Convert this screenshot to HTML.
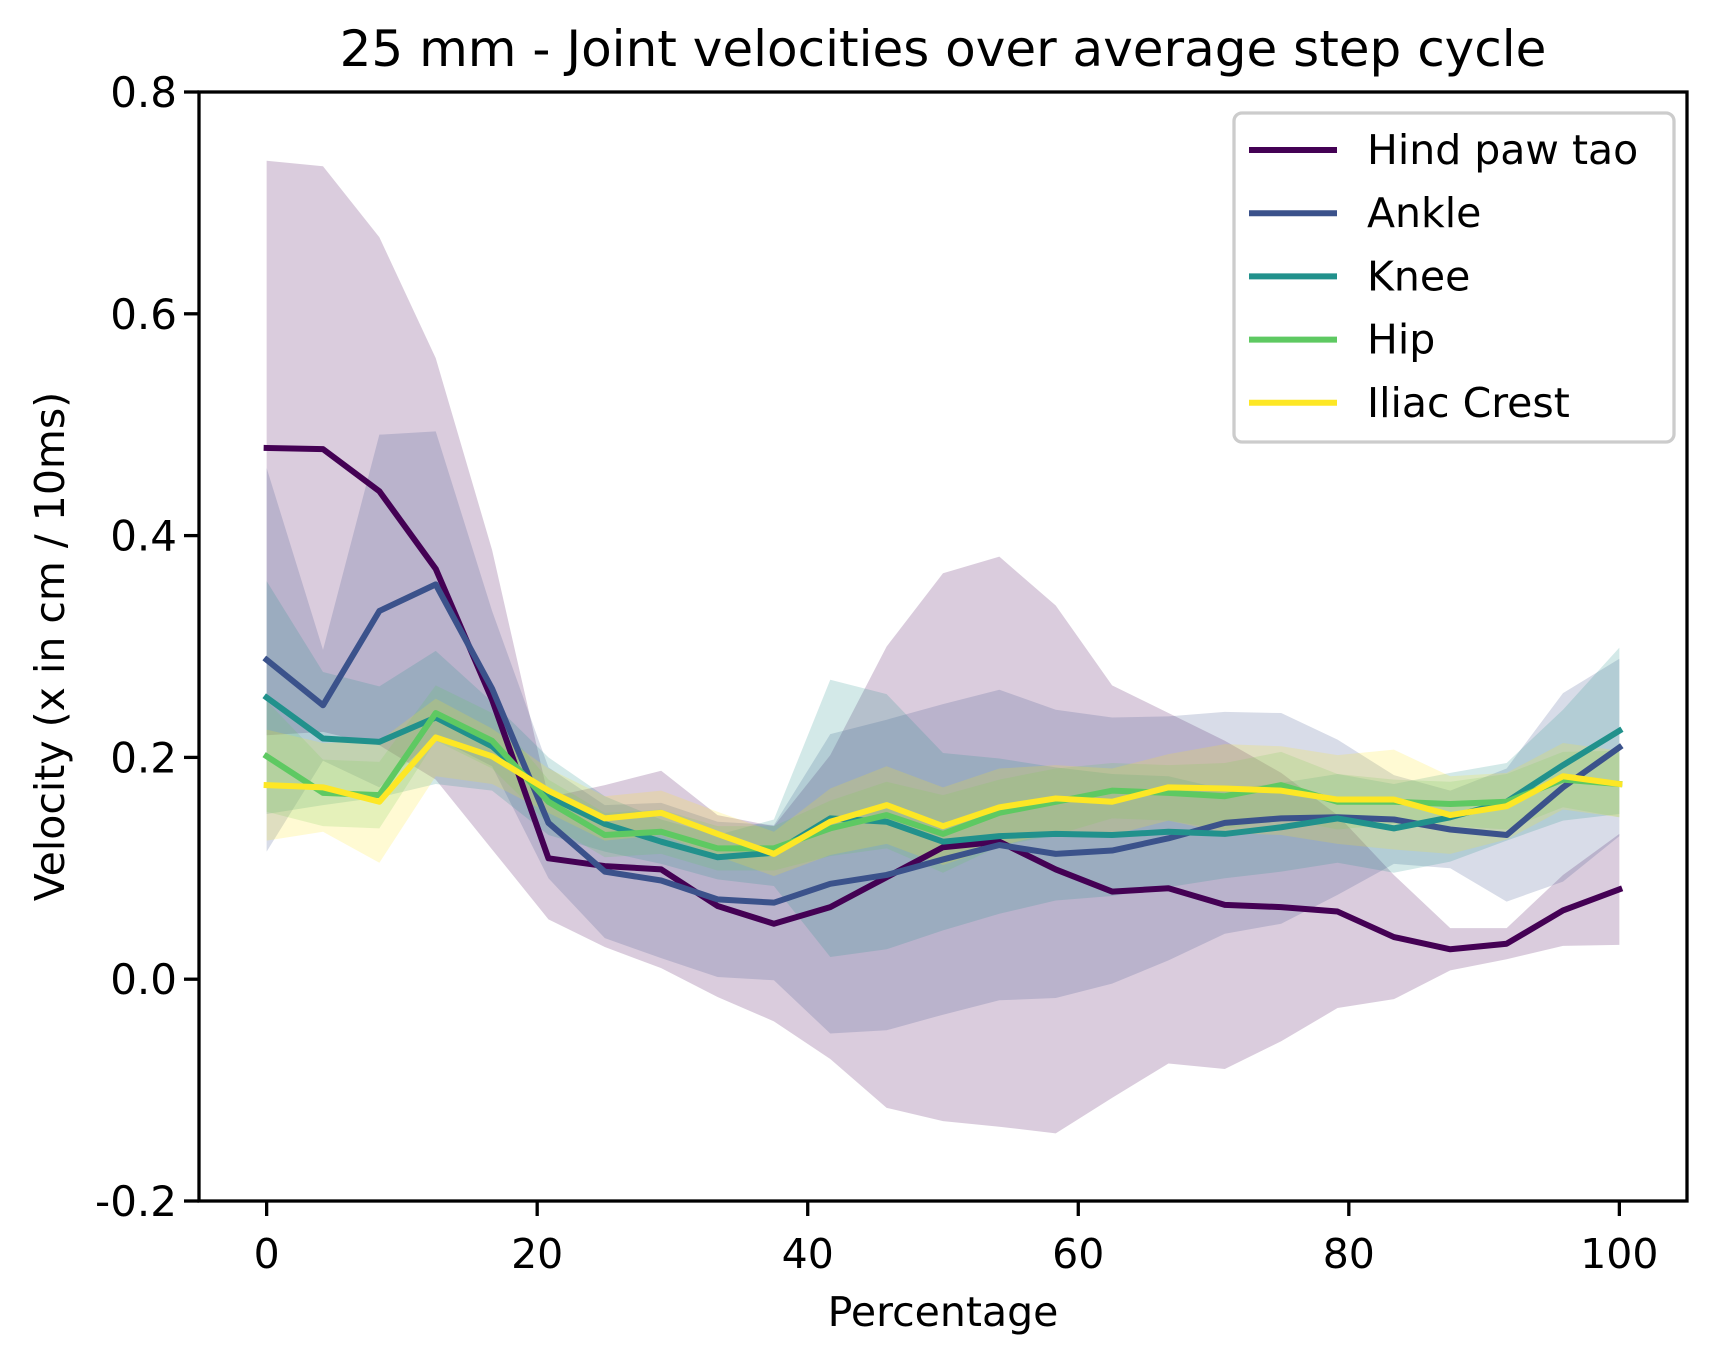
<!DOCTYPE html>
<html><head><meta charset="utf-8"><style>body{margin:0;background:#fff}svg{display:block}text{font-family:"DejaVu Sans","Liberation Sans",sans-serif;fill:#000}</style></head>
<body>
<svg id="chart" width="1716" height="1361" xmlns="http://www.w3.org/2000/svg"></svg>
<script>
const xTicks=[0,20,40,60,80,100];
const yTicks=[-0.2,0,0.2,0.4,0.6,0.8];
const yTickLabels=["-0.2","0.0","0.2","0.4","0.6","0.8"];
const seriesNames=["Hind paw tao","Ankle","Knee","Hip","Iliac Crest"];
const seriesColors=["#440154","#3b528b","#21918c","#5ec962","#fde725"];
const hindMean=[0.479,0.478,0.440,0.370,0.252,0.109,0.102,0.099,0.066,0.050,0.065,0.092,0.119,0.124,0.099,0.079,0.082,0.067,0.065,0.061,0.038,0.027,0.032,0.062,0.081];
const hindStd=[0.259,0.255,0.229,0.190,0.135,0.055,0.073,0.089,0.082,0.088,0.137,0.208,0.247,0.257,0.238,0.186,0.158,0.148,0.121,0.087,0.056,0.019,0.014,0.032,0.05];
const ankleMean=[0.288,0.247,0.332,0.356,0.262,0.141,0.097,0.089,0.072,0.069,0.086,0.094,0.108,0.121,0.113,0.116,0.127,0.141,0.145,0.146,0.144,0.135,0.130,0.173,0.209];
const ankleStd=[0.173,0.05,0.159,0.138,0.07,0.05,0.06,0.07,0.07,0.07,0.135,0.14,0.14,0.14,0.13,0.12,0.11,0.10,0.095,0.07,0.04,0.035,0.06,0.085,0.08];
const kneeMean=[0.254,0.217,0.214,0.236,0.210,0.165,0.140,0.124,0.110,0.114,0.145,0.142,0.124,0.129,0.131,0.130,0.133,0.131,0.137,0.145,0.136,0.146,0.160,0.193,0.224];
const kneeStd=[0.105,0.06,0.05,0.06,0.04,0.035,0.025,0.02,0.02,0.03,0.125,0.115,0.08,0.07,0.06,0.055,0.05,0.04,0.04,0.04,0.04,0.04,0.035,0.05,0.075];
const hipMean=[0.201,0.168,0.166,0.240,0.215,0.160,0.130,0.133,0.118,0.118,0.136,0.148,0.131,0.150,0.160,0.170,0.168,0.165,0.175,0.160,0.160,0.158,0.160,0.180,0.176];
const hipStd=[0.05,0.03,0.03,0.025,0.025,0.02,0.02,0.02,0.02,0.02,0.025,0.03,0.035,0.03,0.03,0.025,0.025,0.03,0.03,0.025,0.02,0.02,0.025,0.025,0.03];
const iliacMean=[0.175,0.173,0.160,0.218,0.201,0.170,0.145,0.150,0.131,0.113,0.142,0.157,0.138,0.155,0.163,0.160,0.173,0.172,0.170,0.162,0.162,0.148,0.156,0.183,0.176];
const iliacStd=[0.05,0.04,0.055,0.035,0.025,0.02,0.02,0.02,0.02,0.02,0.03,0.035,0.035,0.035,0.03,0.03,0.03,0.04,0.04,0.04,0.045,0.035,0.03,0.03,0.03];

const means=[hindMean,ankleMean,kneeMean,hipMean,iliacMean];
const stds=[hindStd,ankleStd,kneeStd,hipStd,iliacStd];
const L=199,R=1687,T=92,B=1201;
const xS=v=>L+(v+5)/110*(R-L);
const yS=v=>B-(v+0.2)/1.0*(B-T);
const svg=document.getElementById('chart');
const NS="http://www.w3.org/2000/svg";
function mk(tag,attrs,parent){const e=document.createElementNS(NS,tag);for(const k in attrs)e.setAttribute(k,attrs[k]);(parent||svg).appendChild(e);return e;}
const xs=i=>i*100/24;
means.forEach((m,s)=>{
  let pts=m.map((v,i)=>xS(xs(i))+','+yS(v+stds[s][i]));
  for(let i=m.length-1;i>=0;i--)pts.push(xS(xs(i))+','+yS(m[i]-stds[s][i]));
  const p=mk('polygon',{points:pts.join(' '),fill:seriesColors[s],'fill-opacity':0.2});
  
  
});
means.forEach((m,s)=>{
  const p=mk('polyline',{points:m.map((v,i)=>xS(xs(i))+','+yS(v)).join(' '),fill:'none',stroke:seriesColors[s],'stroke-width':6,'stroke-linejoin':'round','stroke-linecap':'square'});
  
  
});
const fr=mk('rect',{x:L,y:T,width:R-L,height:B-T,fill:'none',stroke:'#000','stroke-width':3.3});


xTicks.forEach(t=>{
  mk('line',{x1:xS(t),x2:xS(t),y1:B,y2:B+15,stroke:'#000','stroke-width':3.3});
  const tx=mk('text',{x:xS(t),y:1268,'font-size':41,'text-anchor':'middle'});tx.textContent=t;
  
  
});
yTicks.forEach((t,i)=>{
  mk('line',{x1:L-15,x2:L,y1:yS(t),y2:yS(t),stroke:'#000','stroke-width':3.3});
  const tx=mk('text',{x:L-22,y:yS(t)+15,'font-size':42,'text-anchor':'end'});tx.textContent=yTickLabels[i];
  
  
});
const xl=mk('text',{x:(L+R)/2,y:1326,'font-size':41,'text-anchor':'middle'});xl.textContent='Percentage';


const yl=mk('text',{x:0,y:0,'font-size':41,'text-anchor':'middle',transform:'translate(64,'+((T+B)/2)+') rotate(-90)'});yl.textContent='Velocity (x in cm / 10ms)';


const ti=mk('text',{x:(L+R)/2,y:66,'font-size':50,'text-anchor':'middle'});ti.textContent='25 mm - Joint velocities over average step cycle';


const lg=mk('g',{});


mk('rect',{x:1234,y:113,width:440,height:329,rx:8,fill:'#fff','fill-opacity':0.8,stroke:'#ccc','stroke-width':3.3},lg);
seriesNames.forEach((n,s)=>{
  const y=150+s*63.2;
  const g=mk('g',{},lg);
  
  
  mk('line',{x1:1249,x2:1337,y1:y,y2:y,stroke:seriesColors[s],'stroke-width':6},g);
  const t=mk('text',{x:1367,y:y+14,'font-size':41},g);t.textContent=n;
});
</script>
</body></html>
